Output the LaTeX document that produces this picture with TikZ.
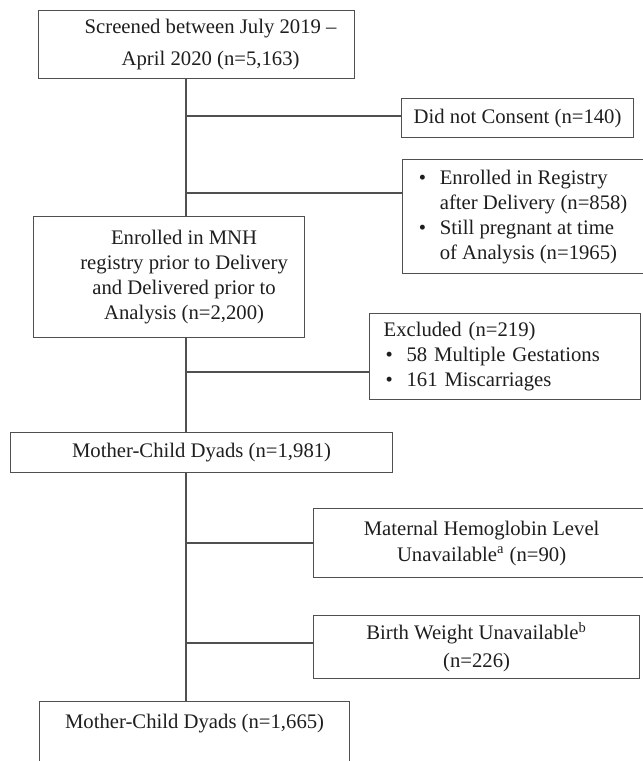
\documentclass[tikz,border=0pt]{standalone}
\usepackage{fontspec}
\setmainfont{Liberation Serif}
\definecolor{cInk}{HTML}{1E1E1E}
\definecolor{cLine}{HTML}{505050}
\newcommand{\fs}{\fontsize{10.35}{12.5}\selectfont}
\newcommand{\bul}{\makebox[10.5pt][l]{\textbullet}}
% text block pushed right inside its box by half of #1
\newcommand{\shft}[2]{\hspace*{#1}\begin{tabular}{@{}c@{}}#2\end{tabular}}
\tikzset{
  every node/.style={font=\fs, text=cInk},
  box/.style={draw=cLine, line width=0.6pt, anchor=north west, align=center, inner sep=0pt},
  lbox/.style={box, align=left},
  link/.style={draw=cLine, line width=0.6pt},
}

\begin{document}
\begin{tikzpicture}[x=0.5pt,y=-0.5pt]
\useasboundingbox (0,0) rectangle (643,761);
\clip (0,0) rectangle (643,761);
% main stream boxes
\node[box, minimum width=158pt, minimum height=34pt] (scr) at (38,10) {\shft{14pt}{Screened between July 2019 –\\[3.5pt]April 2020 (n=5,163)}};
\node[box, minimum width=135.5pt, minimum height=60.5pt] (mnh) at (33,216) {\shft{15pt}{Enrolled in MNH\\registry prior to Delivery\\and Delivered prior to\\Analysis (n=2,200)}};
\node[box, minimum width=191pt, minimum height=20pt] (dy1) at (10,432) {Mother-Child Dyads (n=1,981)};
\node[box, minimum width=155pt, text height=13.5pt, text depth=40pt] (dy2) at (39,701) {Mother-Child Dyads (n=1,665)};
% exclusion boxes
\node[box, minimum width=116pt, minimum height=19.5pt] (dnc) at (401,98) {Did not Consent (n=140)};
\node[lbox, minimum width=120.5pt, minimum height=57pt] (reg) at (402,159) {\bul Enrolled in Registry\\\hspace*{10.5pt}after Delivery (n=858)\\\bul Still pregnant at time\\\hspace*{10.5pt}of Analysis (n=1965)};
\node[lbox, text width=121.5pt, inner xsep=7pt, minimum height=43pt] (exc) at (369,313) {Excluded (n=219)\\\hspace*{1pt}\bul 58 Multiple Gestations\\\hspace*{1pt}\bul 161 Miscarriages};
\node[box, minimum width=168pt, minimum height=34.5pt] (hb) at (313,508) {Maternal Hemoglobin Level\\[0.5pt]Unavailable\textsuperscript{a} (n=90)};
\node[box, minimum width=163pt, minimum height=31.5pt] (bw) at (313,615) {Birth Weight Unavailable\textsuperscript{b}\\[1.5pt](n=226)};
% trunk and branches
\coordinate (tr) at (186,0);
\coordinate (b1) at (186,116);
\coordinate (b2) at (186,193);
\coordinate (b3) at (186,372);
\coordinate (b4) at (186,543);
\coordinate (b5) at (186,643);
\draw[link] (scr.south -| tr) -- (mnh.north -| tr);
\draw[link] (mnh.south -| tr) -- (dy1.north -| tr);
\draw[link] (dy1.south -| tr) -- (dy2.north -| tr);
\draw[link] (b1) -- (b1 -| dnc.west);
\draw[link] (b2) -- (b2 -| reg.west);
\draw[link] (b3) -- (b3 -| exc.west);
\draw[link] (b4) -- (b4 -| hb.west);
\draw[link] (b5) -- (b5 -| bw.west);
\end{tikzpicture}
\end{document}
